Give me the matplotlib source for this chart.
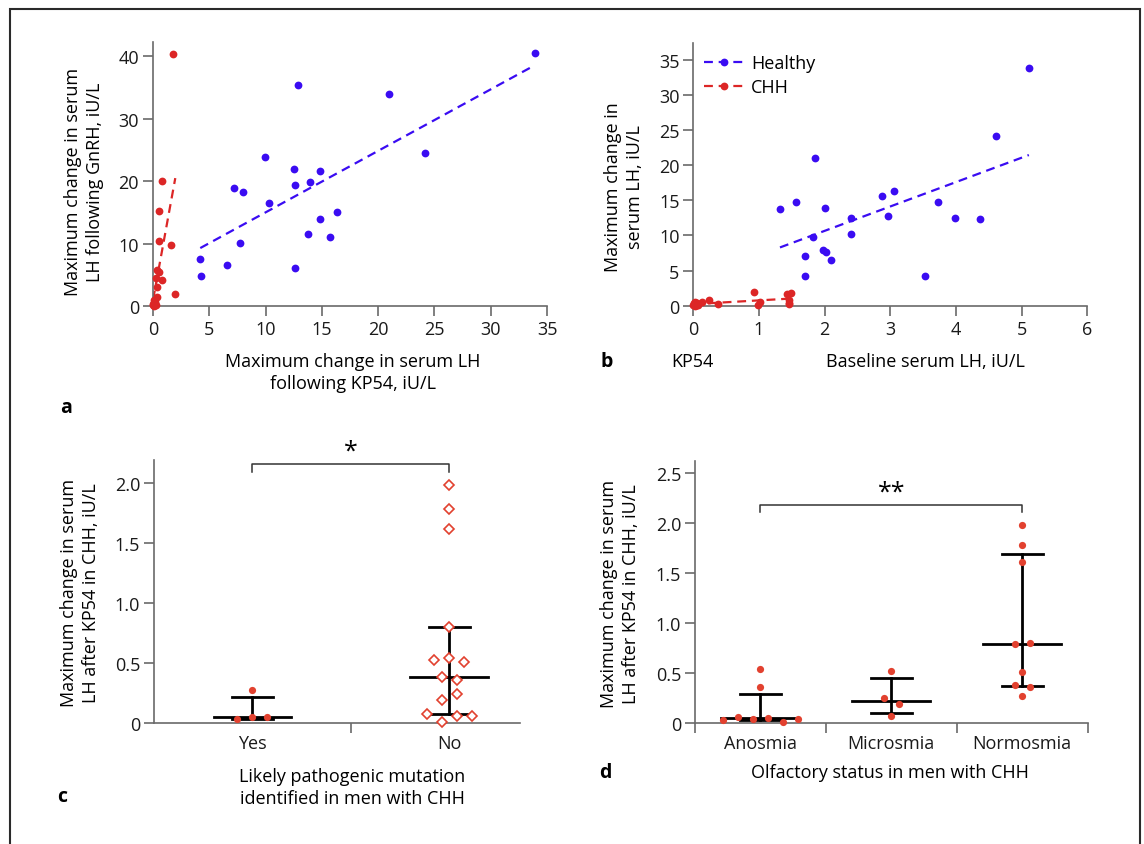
import numpy as np
import matplotlib
matplotlib.use('Agg')
import matplotlib.pyplot as plt
from matplotlib.lines import Line2D
from matplotlib.patches import Rectangle

plt.rcParams['font.family'] = ['Open Sans', 'DejaVu Sans']

# ---- data ----
# healthy men: KP54 response vs GnRH response (panel a)
healthy_kp54 = [33.9, 12.85, 20.96, 24.2, 9.92, 12.5, 14.8, 12.6, 13.97, 7.19, 7.99,
                10.27, 16.37, 14.83, 13.77, 15.75, 7.73, 4.2, 6.6, 12.58, 4.26]
healthy_gnrh = [40.5, 35.4, 33.9, 24.5, 23.8, 21.9, 21.7, 19.4, 19.9, 18.9, 18.2,
                16.5, 15.0, 13.9, 11.5, 11.1, 10.1, 7.6, 6.6, 6.1, 4.8]
# healthy men: baseline LH vs KP54 response (panel b)
healthy_base = [5.11, 4.61, 1.85, 3.05, 2.87, 1.56, 3.73, 2.0, 1.32, 2.96, 2.40,
                3.99, 4.37, 2.40, 1.83, 1.98, 2.02, 1.70, 2.10, 1.70, 3.53]
healthy_resp = [33.9, 24.2, 21.0, 16.3, 15.6, 14.8, 14.8, 13.9, 13.7, 12.8, 12.5,
                12.5, 12.4, 10.2, 9.8, 8.0, 7.7, 7.1, 6.5, 4.2, 4.2]
# CHH men
chh_kp54 = [1.98, 1.78, 1.61, 0.805, 0.79, 0.543, 0.522, 0.515, 0.383, 0.363, 0.363,
            0.273, 0.25, 0.193, 0.07, 0.066, 0.056, 0.046, 0.046, 0.033, 0.013]
chh_gnrh = [2.0, 40.3, 9.7, 20.1, 4.2, 5.4, 15.2, 10.4, 5.7, 3.0, 1.4,
            4.5, 0.2, 0.6, 0.5, 0.3, 1.0, 0.1, 0.0, 0.2, 0.4]
chh_base = [0.93, 1.49, 1.42, 1.45, 0.24, 0.02, 0.14, 1.02, 0.05, 1.45, 0.01,
            1.46, 0.03, 0.38, 0.06, 0.02, 0.04, 0.99, 0.07, 0.0, 0.03]

# panel c: mutation status
mut_labels = ['Yes', 'No']
mut_yes = [0.277, 0.03, 0.047, 0.047]
mut_no = [1.983, 1.78, 1.61, 0.80, 0.52, 0.54, 0.51, 0.38, 0.36, 0.19, 0.24,
          0.075, 0.011, 0.056, 0.06]

# panel d: olfactory status
olf_labels = ['Anosmia', 'Microsmia', 'Normosmia']
olf_groups = [
    [0.543, 0.363, 0.033, 0.066, 0.046, 0.056, 0.013, 0.046],
    [0.522, 0.25, 0.193, 0.07],
    [1.98, 1.78, 1.61, 0.79, 0.805, 0.515, 0.383, 0.363, 0.273],
]

BLUE = '#3a0cf2'
RED = '#dc2626'
RED2 = '#e2412f'
SPINE = '#6a6a6a'

W, H = 1144, 845
fig = plt.figure(figsize=(W / 100, H / 100), dpi=100)


def px_axes(l, t, r, b):
    return fig.add_axes([l / W, 1 - b / H, (r - l) / W, (b - t) / H])


def style(ax):
    for s in ['top', 'right']:
        ax.spines[s].set_visible(False)
    for s in ['left', 'bottom']:
        ax.spines[s].set_color(SPINE)
        ax.spines[s].set_linewidth(1.2)
    ax.tick_params(direction='out', length=7, width=1.2, color=SPINE,
                   labelsize=13, labelcolor='#1a1a1a', pad=3)


def ftext(x, y, s, **kw):
    fig.text(x / W, 1 - y / H, s, **kw)


def fit_line(ax, x, y, color):
    # least squares line drawn over the range of the group's x values
    x = np.asarray(x)
    y = np.asarray(y)
    k, b = np.polyfit(x, y, 1)
    xs = np.array([x.min(), x.max()])
    ax.plot(xs, k * xs + b, ls=(0, (4, 2.6)), color=color, lw=1.6, zorder=2)


def swarm_offsets(ax, xc, vals, spacing_px=15, row_px=8.4):
    # group values into rows (in pixels) and spread each row symmetrically
    pts = ax.transData.transform([(xc, v) for v in vals])
    unit = ax.transData.transform((xc + 1, 0))[0] - ax.transData.transform((xc, 0))[0]
    order = np.argsort([p[1] for p in pts])
    rows = []
    for i in order:
        if rows and pts[i][1] - pts[rows[-1][0]][1] < row_px:
            rows[-1].append(i)
        else:
            rows.append([i])
    offs = np.zeros(len(vals))
    for row in rows:
        row = sorted(row)
        n = len(row)
        for j, i in enumerate(row):
            offs[i] = (j - (n - 1) / 2) * spacing_px / unit
    return offs


def median_iqr(ax, xc, vals, half_med, half_cap):
    q1, med, q3 = np.percentile(vals, [25, 50, 75], method='weibull')
    ax.plot([xc, xc], [q1, q3], color='black', lw=2, zorder=3)
    ax.plot([xc - half_med, xc + half_med], [med, med], color='black', lw=2, zorder=3)
    for q in (q1, q3):
        ax.plot([xc - half_cap, xc + half_cap], [q, q], color='black', lw=2, zorder=3)


# ---- panel a ----
ax = px_axes(153, 43, 547, 307)
style(ax)
ax.set_xlim(0, 35)
ax.set_ylim(0, 42.3)
ax.set_xticks(range(0, 36, 5))
ax.set_yticks(range(0, 41, 10))
fit_line(ax, healthy_kp54, healthy_gnrh, BLUE)
fit_line(ax, chh_kp54, chh_gnrh, RED)
ax.plot(healthy_kp54, healthy_gnrh, 'o', color=BLUE, ms=5.6, mec='none', clip_on=False, zorder=4)
ax.plot(chh_kp54, chh_gnrh, 'o', color=RED, ms=5.6, mec='none', clip_on=False, zorder=4)

ftext(84, 182, 'Maximum change in serum\nLH following GnRH, iU/L', rotation=90,
      ha='center', va='center', fontsize=13, linespacing=1.35)
ftext(353, 373, 'Maximum change in serum LH\nfollowing KP54, iU/L',
      ha='center', va='center', fontsize=13, linespacing=1.35)
ftext(66, 408, 'a', ha='center', va='center', fontsize=14, fontweight='bold')

# ---- panel b ----
ax = px_axes(693.3, 44, 1087.3, 306.7)
style(ax)
ax.set_xlim(0, 6)
ax.set_ylim(0, 37.4)
ax.set_xticks(range(0, 7))
ax.set_yticks(range(0, 36, 5))
fit_line(ax, healthy_base, healthy_resp, BLUE)
fit_line(ax, chh_base, chh_kp54, RED)
ax.plot(healthy_base, healthy_resp, 'o', color=BLUE, ms=5.6, mec='none', clip_on=False, zorder=4)
ax.plot(chh_base, chh_kp54, 'o', color=RED, ms=5.6, mec='none', clip_on=False, zorder=4)
handles = [Line2D([], [], color=BLUE, ls=(0, (4, 2.6)), lw=1.6, marker='o', ms=5.6, mec='none'),
           Line2D([], [], color=RED, ls=(0, (4, 2.6)), lw=1.6, marker='o', ms=5.6, mec='none')]
ax.legend(handles, ['Healthy', 'CHH'], loc='upper left', bbox_to_anchor=(0.0, 1.0),
          frameon=False, fontsize=13, handlelength=2.2, handletextpad=0.4,
          labelspacing=0.35, borderaxespad=0.2)

ftext(624, 187, 'Maximum change in\nserum LH, iU/L', rotation=90,
      ha='center', va='center', fontsize=13, linespacing=1.35)
ftext(607, 362, 'b', ha='center', va='center', fontsize=14, fontweight='bold')
ftext(692, 362, 'KP54', ha='center', va='center', fontsize=13)
ftext(925, 362, 'Baseline serum LH, iU/L', ha='center', va='center', fontsize=13)

# ---- panel c ----
ax = px_axes(154, 460.7, 520, 724)
style(ax)
ax.set_xlim(-0.5, 1.36)
ax.set_ylim(0, 2.19)
ax.set_yticks([0, 0.5, 1.0, 1.5, 2.0], ['0', '0.5', '1.0', '1.5', '2.0'])
ax.set_xticks([0.5], [''])
ax.set_xticks([0, 1], mut_labels, minor=True)
ax.tick_params(axis='x', which='minor', length=0, labelsize=13, labelcolor='#1a1a1a', pad=8)

off = swarm_offsets(ax, 0, mut_yes)
ax.plot(0 + off, mut_yes, 'o', color=RED2, ms=5.2, mec='none', clip_on=False, zorder=4)
off = swarm_offsets(ax, 1, mut_no)
ax.plot(1 + off, mut_no, 'D', mfc='white', mec=RED2, mew=1.2, ms=4.6, clip_on=False, zorder=4)
median_iqr(ax, 0, mut_yes, 0.197, 0.104)
median_iqr(ax, 1, mut_no, 0.197, 0.104)

ax.plot([0, 0, 1, 1], [2.087, 2.157, 2.157, 2.087], color='#333333', lw=1.1, clip_on=False)
ax.text(0.5, 2.26, '*', ha='center', va='center', fontsize=18)

ftext(80, 593, 'Maximum change in serum\nLH after KP54 in CHH, iU/L', rotation=90,
      ha='center', va='center', fontsize=13, linespacing=1.35)
ftext(352, 788, 'Likely pathogenic mutation\nidentified in men with CHH',
      ha='center', va='center', fontsize=13, linespacing=1.35)
ftext(62, 797, 'c', ha='center', va='center', fontsize=14, fontweight='bold')

# ---- panel d ----
ax = px_axes(695, 462, 1087.7, 724.3)
style(ax)
ax.set_xlim(0, 3)
ax.set_ylim(0, 2.62)
ax.set_yticks([0, 0.5, 1.0, 1.5, 2.0, 2.5], ['0', '0.5', '1.0', '1.5', '2.0', '2.5'])
ax.set_xticks([0, 1, 2, 3], ['', '', '', ''])
ax.set_xticks([0.5, 1.5, 2.5], olf_labels, minor=True)
ax.tick_params(axis='x', which='minor', length=0, labelsize=13, labelcolor='#1a1a1a', pad=8)

for i, vals in enumerate(olf_groups):
    xc = i + 0.5
    off = swarm_offsets(ax, xc, vals)
    ax.plot(xc + off, vals, 'o', color=RED2, ms=5.2, mec='none', clip_on=False, zorder=4)
    median_iqr(ax, xc, vals, 0.298, 0.157)

ax.plot([0.5, 0.5, 2.5, 2.5], [2.108, 2.184, 2.184, 2.108], color='#333333', lw=1.1, clip_on=False)
ax.text(1.5, 2.31, '**', ha='center', va='center', fontsize=18)

ftext(620, 594, 'Maximum change in serum\nLH after KP54 in CHH, iU/L', rotation=90,
      ha='center', va='center', fontsize=13, linespacing=1.35)
ftext(890, 773, 'Olfactory status in men with CHH', ha='center', va='center', fontsize=13)
ftext(605, 773, 'd', ha='center', va='center', fontsize=14, fontweight='bold')

# outer frame
fig.patches.append(Rectangle((9.5 / W, -0.05), 1130 / W, 1 - 9.5 / H + 0.05,
                             transform=fig.transFigure, fill=False, ec='#2a2a2a', lw=1.5))

fig.savefig('out.png', dpi=100)
